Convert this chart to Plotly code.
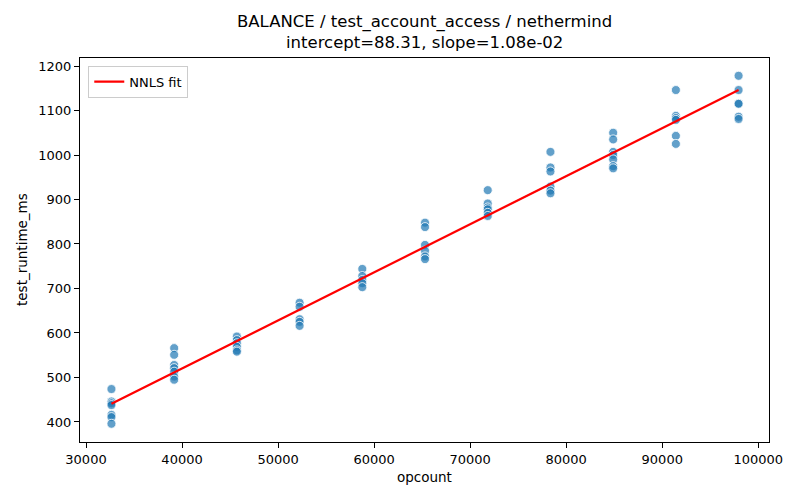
import plotly.graph_objects as go

# opcount levels and measured runtimes at each level
opcount_levels = [32650, 39180, 45710, 52240, 58770, 65300, 71830, 78360, 84890, 91420, 97950]
runtimes = [
    [474, 446, 442, 438, 416, 411, 396],
    [566, 551, 528, 521, 513, 502, 495],
    [592, 584, 577, 569, 561, 558],
    [668, 659, 631, 625, 616],
    [744, 728, 719, 712, 703],
    [848, 838, 798, 785, 772, 766],
    [921, 891, 882, 878, 870, 863],
    [1007, 972, 963, 929, 920, 914],
    [1050, 1035, 1007, 1000, 990, 975, 970],
    [1146, 1088, 1083, 1079, 1043, 1025],
    [1178, 1146, 1116, 1115, 1086, 1081],
]
intercept = 88.31
slope = 1.08e-02

xs = []
ys = []
for x, vals in zip(opcount_levels, runtimes):
    for v in vals:
        xs.append(x)
        ys.append(v)

x_fit = [min(opcount_levels), max(opcount_levels)]
y_fit = [intercept + slope * x for x in x_fit]

fig = go.Figure()
fig.add_trace(go.Scatter(
    x=xs, y=ys, mode="markers", showlegend=False,
    marker=dict(color="rgba(31,119,180,0.7)", size=9,
                line=dict(color="white", width=0.8)),
))
fig.add_trace(go.Scatter(
    x=x_fit, y=y_fit, mode="lines", name="NNLS fit",
    line=dict(color="red", width=2.2),
))

axis_style = dict(
    showgrid=False, zeroline=False, showline=True, linecolor="black",
    linewidth=1, mirror=True, ticks="outside", ticklen=5, tickcolor="black",
    tickfont=dict(size=13, color="black"), automargin=False,
    tickformat="d",
)

title_lines = ["BALANCE / test_account_access / nethermind",
               f"intercept={intercept:.2f}, slope={slope:.2e}"]

# page body adds an 8px margin, so the figure is a bit smaller than the window
fig.update_layout(
    width=784, height=484,
    paper_bgcolor="white", plot_bgcolor="white",
    font=dict(family="DejaVu Sans", color="black"),
    margin=dict(l=72, r=23, t=50, b=50),
    xaxis=dict(axis_style, range=[29375, 101116], dtick=10000),
    yaxis=dict(axis_style, range=[355, 1218], dtick=100),
    legend=dict(x=0.012, y=0.98, xanchor="left", yanchor="top",
                bgcolor="rgba(255,255,255,0.8)", bordercolor="#cccccc",
                borderwidth=1, font=dict(size=13), tracegroupgap=0),
)

# title lines and axis labels placed like the matplotlib original
fig.add_annotation(text=title_lines[0], xref="paper", yref="paper", x=0.5, y=1,
                   yshift=36, showarrow=False, font=dict(size=16.5), yanchor="middle")
fig.add_annotation(text=title_lines[1], xref="paper", yref="paper", x=0.5, y=1,
                   yshift=16, showarrow=False, font=dict(size=16.5), yanchor="middle")
fig.add_annotation(text="opcount", xref="paper", yref="paper", x=0.5, y=0,
                   yshift=-35, showarrow=False, font=dict(size=13.5), yanchor="middle")
fig.add_annotation(text="test_runtime_ms", xref="paper", yref="paper", x=0, y=0.5,
                   xshift=-58, showarrow=False, font=dict(size=13.5), textangle=-90,
                   xanchor="center")

fig.write_html("out.html")
